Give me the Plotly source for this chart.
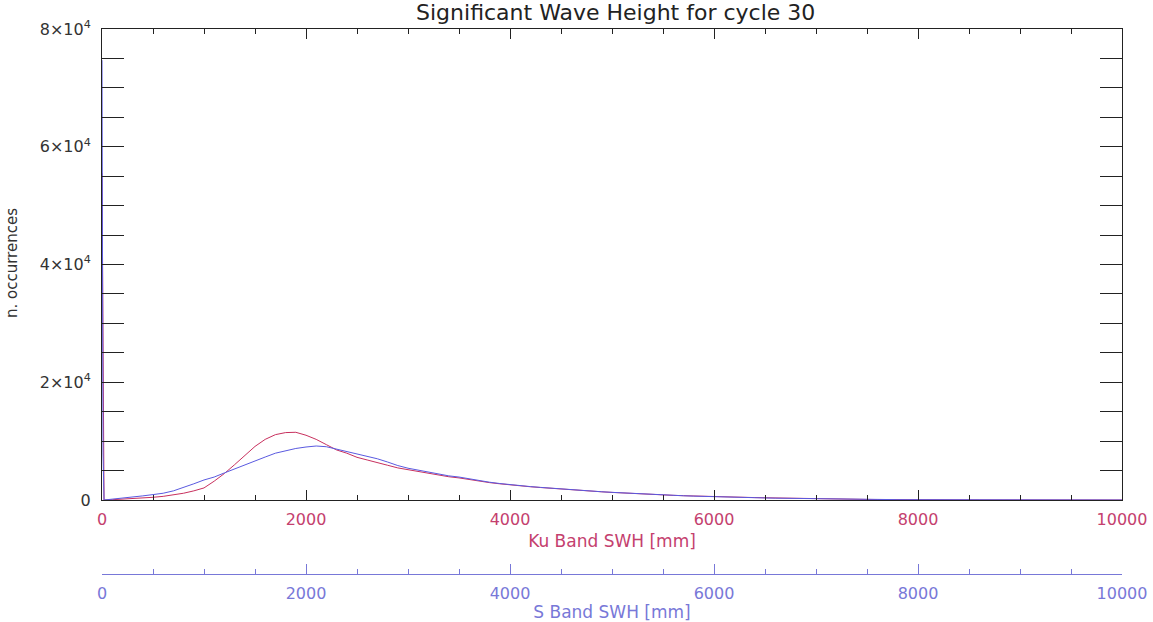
import plotly.graph_objects as go

# Ku band histogram (mm -> occurrences)
ku_x = [0, 10, 20, 100, 200, 300, 400, 500, 600, 700, 800, 900, 1000, 1100, 1200, 1300, 1400,
        1500, 1600, 1700, 1800, 1900, 2000, 2100, 2200, 2300, 2400, 2500, 2600, 2700, 2800,
        2900, 3000, 3100, 3200, 3300, 3400, 3500, 3600, 3700, 3800, 3900, 4000, 4100, 4200,
        4300, 4400, 4500, 4600, 4700, 4800, 4900, 5000, 5100, 5200, 5300, 5400, 5500, 5600,
        5700, 5800, 5900, 6000, 6100, 6200, 6300, 6400, 6500, 6600, 6700, 6800, 6900, 7000,
        7100, 7200, 7300, 7400, 7500, 7600, 7700, 7800, 7900, 8000, 8100, 8200, 8300, 8400,
        8500, 8600, 10000]
ku_y = [55500, 19000, 0, 50, 120, 220, 330, 460, 620, 850, 1150, 1550, 2050, 3200, 4500, 6000, 7500,
        9100, 10300, 11100, 11450, 11500, 11000, 10300, 9400, 8500, 7950, 7250, 6800, 6400, 5900,
        5450, 5150, 4800, 4500, 4270, 3950, 3750, 3480, 3150, 2950, 2750, 2550, 2400, 2250,
        2120, 1980, 1850, 1720, 1600, 1480, 1390, 1290, 1190, 1100, 1010, 930, 860, 790,
        730, 670, 620, 580, 530, 490, 450, 410, 380, 340, 310, 280, 240, 200,
        170, 150, 130, 110, 95, 80, 70, 60, 55, 50, 45, 40, 35, 30,
        25, 15, 0]

# S band histogram
s_x = [0, 10, 20, 100, 200, 300, 400, 500, 600, 700, 800, 900, 1000, 1100, 1200, 1300, 1400,
       1500, 1600, 1700, 1800, 1900, 2000, 2100, 2200, 2300, 2400, 2500, 2600, 2700, 2800,
       2900, 3000, 3100, 3200, 3300, 3400, 3500, 3600, 3700, 3800, 3900, 4000, 4100, 4200,
       4300, 4400, 4500, 4600, 4700, 4800, 4900, 5000, 5100, 5200, 5300, 5400, 5500, 5600,
       5700, 5800, 5900, 6000, 6100, 6200, 6300, 6400, 6500, 6600, 6700, 6800, 6900, 7000,
       7100, 7200, 7300, 7400, 7500, 7600, 7700, 7800, 7900, 8000, 8100, 8200, 8300, 8400,
       8500, 8600, 8700, 10000]
s_y = [74700, 8000, 0, 120, 300, 480, 700, 920, 1150, 1550, 2100, 2750, 3400, 3900, 4600, 5300, 5950,
       6600, 7300, 7950, 8400, 8750, 9000, 9170, 9050, 8650, 8200, 7750, 7350, 7000, 6450,
       5850, 5400, 5050, 4750, 4450, 4100, 3900, 3580, 3250, 3020, 2800, 2600, 2440, 2280,
       2140, 2000, 1870, 1740, 1620, 1500, 1400, 1300, 1200, 1110, 1020, 940, 860, 790,
       720, 660, 600, 560, 510, 470, 430, 390, 350, 310, 280, 250, 220, 180,
       160, 140, 120, 105, 90, 80, 70, 60, 52, 45, 40, 35, 30, 25,
       20, 15, 10, 0]

y_tickvals = [0, 20000, 40000, 60000, 80000]
y_ticktext = ["0", "2×10<sup>4</sup>", "4×10<sup>4</sup>", "6×10<sup>4</sup>", "8×10<sup>4</sup>"]
x_tickvals = [0, 2000, 4000, 6000, 8000, 10000]

RED = "#c8305e"
RED_TXT = "#c4406e"
BLUE = "#5a5ae0"
BLUE_TXT = "#7878d8"
FONT = "DejaVu Sans"

fig = go.Figure()
fig.add_trace(go.Scatter(x=ku_x, y=ku_y, mode="lines", line=dict(color=RED, width=1),
                         xaxis="x", yaxis="y", showlegend=False))
fig.add_trace(go.Scatter(x=s_x, y=s_y, mode="lines", line=dict(color=BLUE, width=1),
                         xaxis="x2", yaxis="y", showlegend=False))

W, H = 1153, 622
mt, mb, ml, mr = 29, 48, 102, 31
plot_h = H - mt - mb
y_dom0 = (574 - 500) / plot_h

fig.update_layout(
    width=W, height=H,
    margin=dict(l=ml, r=mr, t=mt, b=mb, autoexpand=False),
    paper_bgcolor="white", plot_bgcolor="white",
    font=dict(family=FONT),
    xaxis=dict(
        range=[0, 10000], domain=[0, 1], anchor="y",
        tickvals=x_tickvals, ticktext=[str(v) for v in x_tickvals],
        tickfont=dict(color=RED_TXT, size=16, family=FONT), ticklabelstandoff=5,
        ticks="inside", ticklen=10, tickcolor="#222", tickwidth=1,
        minor=dict(dtick=500, ticks="inside", ticklen=5, tickcolor="#222", tickwidth=1),
        showline=True, linecolor="#222", linewidth=1, mirror="allticks",
        showgrid=False, zeroline=False, automargin=False,
        title=dict(text="Ku Band SWH [mm]", font=dict(color=RED_TXT, size=17, family=FONT), standoff=6),
    ),
    xaxis2=dict(
        range=[0, 10000], overlaying="x", anchor="free", position=0, side="bottom",
        tickvals=x_tickvals, ticktext=[str(v) for v in x_tickvals],
        tickfont=dict(color=BLUE_TXT, size=16, family=FONT), ticklabelstandoff=5,
        ticks="inside", ticklen=10, tickcolor=BLUE_TXT, tickwidth=1,
        minor=dict(dtick=500, ticks="inside", ticklen=5, tickcolor=BLUE_TXT, tickwidth=1),
        showline=True, linecolor=BLUE_TXT, linewidth=1,
        showgrid=False, zeroline=False, automargin=False,
        title=dict(text="S Band SWH [mm]", font=dict(color=BLUE_TXT, size=17, family=FONT), standoff=5),
    ),
    yaxis=dict(
        range=[0, 80000], domain=[y_dom0, 1], anchor="x",
        tickvals=y_tickvals, ticktext=y_ticktext,
        tickfont=dict(color="#333", size=16, family=FONT), ticklabelstandoff=7,
        ticks="inside", ticklen=22, tickcolor="#222", tickwidth=1,
        minor=dict(dtick=5000, ticks="inside", ticklen=10, tickcolor="#222", tickwidth=1),
        showline=True, linecolor="#222", linewidth=1, mirror="allticks",
        showgrid=False, zeroline=False, automargin=False,
    ),
    title=dict(text="Significant Wave Height for cycle 30", x=0.534, xanchor="center",
               y=0.981, yanchor="middle", font=dict(size=22, color="#222", family=FONT)),
    annotations=[
        dict(text="n. occurrences", xref="paper", yref="paper", x=-0.088, y=0.571,
             xanchor="center", yanchor="middle", textangle=-90, showarrow=False,
             font=dict(size=15, color="#333", family=FONT)),
    ],
)

fig.write_html("out.html")
